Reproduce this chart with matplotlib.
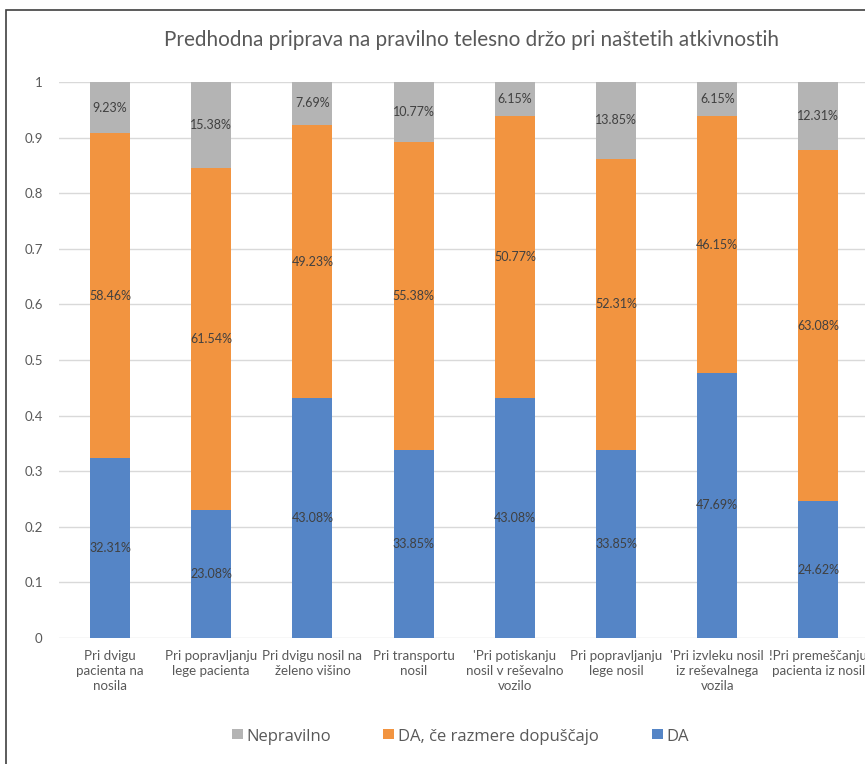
import matplotlib
matplotlib.use("Agg")
import matplotlib.pyplot as plt
from matplotlib.patches import Rectangle
import numpy as np

categories = [
    "Pri dvigu\npacienta na\nnosila",
    "Pri popravljanju\nlege pacienta",
    "Pri dvigu nosil na\nželeno višino",
    "Pri transportu\nnosil",
    "'Pri potiskanju\nnosil v reševalno\nvozilo",
    "Pri popravljanju\nlege nosil",
    "'Pri izvleku nosil\niz reševalnega\nvozila",
    "!Pri premeščanju\npacienta iz nosil",
]
da = [32.31, 23.08, 43.08, 33.85, 43.08, 33.85, 47.69, 24.62]
da_ce = [58.46, 61.54, 49.23, 55.38, 50.77, 52.31, 46.15, 63.08]
nepravilno = [9.23, 15.38, 7.69, 10.77, 6.15, 13.85, 6.15, 12.31]
series_names = ["Nepravilno", "DA, če razmere dopuščajo", "DA"]
yticks = [0, 0.1, 0.2, 0.3, 0.4, 0.5, 0.6, 0.7, 0.8, 0.9, 1]
ytick_labels = ["0", "0.1", "0.2", "0.3", "0.4", "0.5", "0.6", "0.7", "0.8", "0.9", "1"]

plt.rcParams['font.family'] = ['Lato', 'DejaVu Sans']

W, H = 865, 764
fig = plt.figure(figsize=(W / 100, H / 100), dpi=100)
ax = fig.add_axes([59.4 / W, 126 / H, 809.6 / W, 556 / H])

c_da = "#5585C6"
c_ce = "#F29440"
c_ne = "#B4B4B4"
txt = "#404040"
lab = "#595959"

x = np.arange(len(categories))
d1 = np.array(da) / 100
d2 = np.array(da_ce) / 100
d3 = np.array(nepravilno) / 100
w = 0.395
ax.bar(x, d1, w, color=c_da, zorder=2)
ax.bar(x, d2, w, bottom=d1, color=c_ce, zorder=2)
ax.bar(x, d3, w, bottom=d1 + d2, color=c_ne, zorder=2)

for i in range(len(categories)):
    ax.text(x[i], d1[i] / 2, f"{da[i]:.2f}%", ha="center", va="center", fontsize=9, color=txt, zorder=3)
    ax.text(x[i], d1[i] + d2[i] / 2, f"{da_ce[i]:.2f}%", ha="center", va="center", fontsize=9, color=txt, zorder=3)
    ax.text(x[i], d1[i] + d2[i] + d3[i] / 2, f"{nepravilno[i]:.2f}%", ha="center", va="center", fontsize=9, color=txt, zorder=3)

ax.set_xlim(-0.5, len(categories) - 0.5)
ax.set_ylim(0, 1)
ax.set_yticks(yticks)
ax.set_yticklabels(ytick_labels)
ax.set_xticks(x)
ax.set_xticklabels(categories, fontsize=9.6, color=lab, linespacing=1.25)
ax.tick_params(axis="y", length=0, pad=12, labelsize=9.5, labelcolor=lab)
ax.tick_params(axis="x", length=0, pad=9)
for s in ax.spines.values():
    s.set_visible(False)
ax.grid(axis="y", color="#D9D9D9", linewidth=1, zorder=0)
ax.set_axisbelow(True)

fig.text(471 / W, 1 - 40 / H, "Predhodna priprava na pravilno telesno držo pri naštetih atkivnostih",
         ha="center", va="center", fontsize=14.9, color=lab)

# legend (manual placement, Excel style)
leg_colors = [c_ne, c_ce, c_da]
leg_x = [232, 383, 652]
sq = 10.5
for name, col, lx in zip(series_names, leg_colors, leg_x):
    fig.patches.append(Rectangle((lx / W, 1 - (734 + sq / 2) / H), sq / W, sq / H,
                                 transform=fig.transFigure, facecolor=col, edgecolor="none"))
    fig.text((lx + sq + 4) / W, 1 - 737 / H, name, ha="left", va="center",
             fontsize=12, color=lab, family=["Open Sans", "DejaVu Sans"])

fig.patches.append(Rectangle((6 / W, -0.05), 2, 1.05 - 10 / H, transform=fig.transFigure,
                             fill=False, edgecolor="#404040", linewidth=1.2))

fig.savefig("out.png", dpi=100)
